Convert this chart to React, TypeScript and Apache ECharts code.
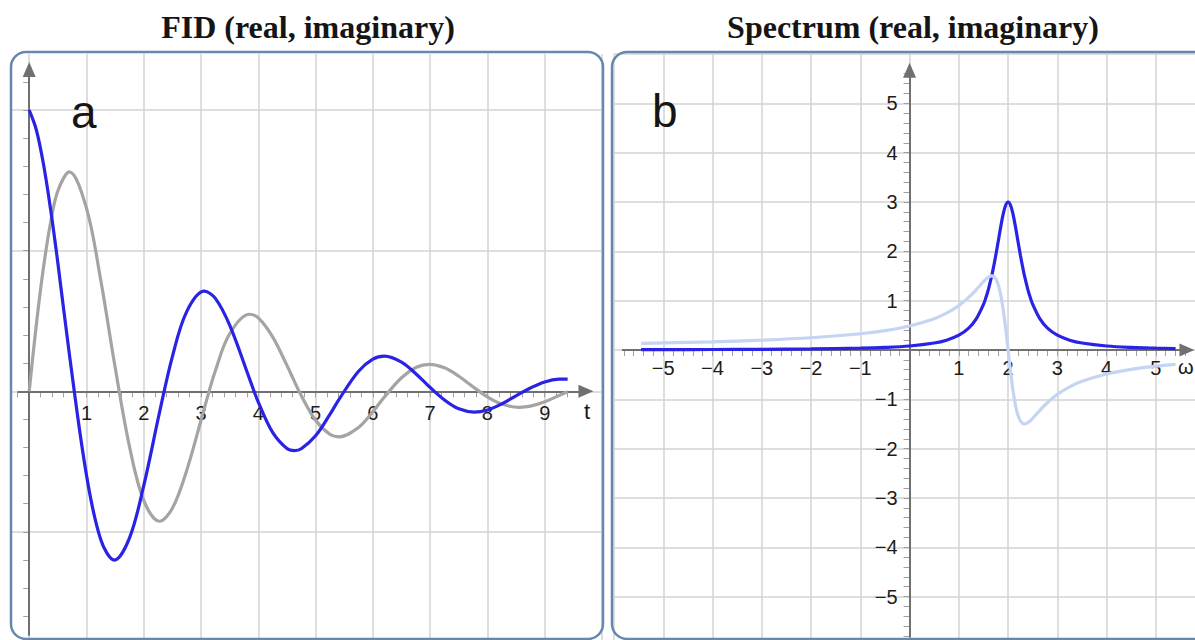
import React, { useEffect, useRef } from "react";
import * as echarts from "echarts";

// Free induction decay: time samples and the real / imaginary signal
const fidTime = [
  0, 0.125, 0.25, 0.375, 0.5, 0.703, 1.0, 1.25, 1.488, 1.75, 2.0, 2.274, 2.5, 2.75, 3.059, 3.25, 3.5,
  3.844, 4.0, 4.25, 4.5, 4.63, 4.75, 5.0, 5.25, 5.415, 5.75, 6.0, 6.201, 6.5, 6.75, 6.986, 7.25, 7.5,
  7.771, 8.0, 8.25, 8.557, 8.75, 9.0, 9.25, 9.4,
];
const fidReal = [
  2.0, 1.859, 1.615, 1.291, 0.915, 0.259, -0.596, -1.056, -1.201, -1.045, -0.671, -0.153, 0.247, 0.567,
  0.712, 0.661, 0.47, 0.092, -0.077, -0.292, -0.407, -0.422, -0.409, -0.317, -0.165, -0.054, 0.142, 0.228,
  0.25, 0.208, 0.125, 0.032, -0.062, -0.125, -0.148, -0.133, -0.09, -0.019, 0.023, 0.066, 0.086, 0.087,
];
const fidImag = [
  0, 0.475, 0.882, 1.203, 1.425, 1.561, 1.303, 0.789, 0.201, -0.391, -0.777, -0.925, -0.833, -0.564,
  -0.119, 0.146, 0.409, 0.548, 0.522, 0.387, 0.184, 0.07, -0.031, -0.206, -0.306, -0.324, -0.258, -0.145,
  -0.041, 0.096, 0.169, 0.192, 0.167, 0.107, 0.025, -0.04, -0.091, -0.114, -0.106, -0.075, -0.03, -0.004,
];

// Spectrum: frequency samples with absorption (real) and dispersion (imaginary)
const specFreq = [
  -5.45, -5, -4, -3, -2, -1, -0.5, 0, 0.5, 0.75, 1, 1.2, 1.35, 1.5, 1.55, 1.6, 1.667, 1.7, 1.75, 1.8,
  1.85, 1.9, 1.95, 2, 2.05, 2.1, 2.15, 2.2, 2.25, 2.3, 2.333, 2.4, 2.45, 2.5, 2.65, 2.8, 3, 3.25, 3.5, 4,
  4.5, 5, 5.4,
];
const specReal = [
  0.006, 0.007, 0.009, 0.013, 0.021, 0.037, 0.052, 0.081, 0.141, 0.199, 0.3, 0.444, 0.625, 0.923, 1.063,
  1.23, 1.5, 1.658, 1.92, 2.206, 2.495, 2.752, 2.934, 3.0, 2.934, 2.752, 2.495, 2.206, 1.92, 1.658,
  1.5, 1.23, 1.063, 0.923, 0.625, 0.444, 0.3, 0.199, 0.141, 0.081, 0.052, 0.037, 0.029,
];
const specImag = [
  0.134, 0.143, 0.166, 0.199, 0.248, 0.329, 0.393, 0.487, 0.635, 0.747, 0.9, 1.065, 1.218, 1.385, 1.435,
  1.475, 1.5, 1.492, 1.44, 1.324, 1.123, 0.826, 0.44, 0, -0.44, -0.826, -1.123, -1.324, -1.44, -1.492,
  -1.5, -1.475, -1.435, -1.385, -1.218, -1.065, -0.9, -0.747, -0.635, -0.487, -0.393, -0.329, -0.291,
];

// Tick labels and grid lines
const fidTimeLabels = [1, 2, 3, 4, 5, 6, 7, 8, 9];
const specLabels = [-5, -4, -3, -2, -1, 1, 2, 3, 4, 5];
const fidGridX = [0, 1, 2, 3, 4, 5, 6, 7, 8, 9, 10];
const fidGridY = [-1, 0, 1, 2];
const specGridX = [-6, -5, -4, -3, -2, -1, 0, 1, 2, 3, 4, 5, 6];
const specGridY = [-5, -4, -3, -2, -1, 0, 1, 2, 3, 4, 5, 6];

const BLUE = "#2a22e4";
const GREY = "#a4a4a4";
const LIGHT = "#c5d4f3";
const AXIS = "#707070";
const GRID = "#d3d3d3";
const TICK = "#a0a0a0";
const BORDER = "#6688b0";
const SANS = "Liberation Sans, Arial, sans-serif";
const SERIF = "Liberation Serif, Times New Roman, serif";
const LABEL_SIZE = 20;

type Box = { left: number; top: number; width: number; height: number };

// small tick marks every 0.2 units between two bounds
function minorTicks(from: number, to: number): number[] {
  const out: number[] = [];
  for (let k = Math.round(from * 5); k <= Math.round(to * 5); k++) out.push(k / 5);
  return out;
}

const signed = (v: number) => (v < 0 ? "\u2212" + Math.abs(v) : String(v));

function backAxis(gridIndex: number, min: number, max: number, lines: number[]) {
  return {
    type: "value",
    gridIndex,
    min,
    max,
    axisLine: { show: false, onZero: false },
    axisTick: { show: false, customValues: lines },
    axisLabel: { show: false },
    splitLine: { show: true, lineStyle: { color: GRID, width: 1.5 } },
  };
}

// axis carrying the small ticks and numbers, shifted so that it sits on the other axis' zero
function mainAxis(
  gridIndex: number,
  position: "bottom" | "left",
  offset: number,
  min: number,
  max: number,
  ticks: number[],
  labels: number[],
  margin: number
) {
  return {
    type: "value",
    gridIndex,
    position,
    offset,
    min,
    max,
    axisLine: { show: false, onZero: false },
    axisTick: { show: true, customValues: ticks, length: 6, lineStyle: { color: TICK, width: 1 } },
    axisLabel: {
      show: labels.length > 0,
      customValues: labels,
      margin,
      fontSize: LABEL_SIZE,
      color: "#1c1c1c",
      fontFamily: SANS,
      formatter: (v: number) => signed(v),
    },
    splitLine: { show: false },
  };
}

function axisArrows(xAxisIndex: number, yAxisIndex: number, x0: number, x1: number, y0: number, y1: number) {
  return {
    type: "line",
    xAxisIndex,
    yAxisIndex,
    data: [[0, 0]],
    showSymbol: false,
    silent: true,
    z: 1,
    lineStyle: { opacity: 0 },
    markLine: {
      silent: true,
      z: 1,
      symbol: ["none", "triangle"],
      symbolSize: [13, 15],
      label: { show: false },
      emphasis: { disabled: true },
      lineStyle: { color: AXIS, width: 2, type: "solid" },
      itemStyle: { color: AXIS },
      data: [
        [{ coord: [x0, 0] }, { coord: [x1, 0] }],
        [{ coord: [0, y0] }, { coord: [0, y1] }],
      ],
    },
  };
}

function text(x: number, y: number, str: string, size: number, family: string, align = "left", weight = "normal") {
  return {
    type: "text",
    x,
    y,
    z: 110,
    silent: true,
    style: {
      text: str,
      fontSize: size,
      fontFamily: family,
      fontWeight: weight,
      fill: "#151515",
      align,
      textAlign: align,
      verticalAlign: "middle",
      textVerticalAlign: "middle",
    },
  };
}

// pixel offsets that move a bottom x axis / left y axis onto the zero line
function zeroOffsets(box: Box, xr: [number, number], yr: [number, number]) {
  const zeroY = box.top + (box.height * yr[1]) / (yr[1] - yr[0]);
  const zeroX = box.left + (box.width * -xr[0]) / (xr[1] - xr[0]);
  return { x: zeroY - (box.top + box.height), y: -(zeroX - box.left) };
}

export default function App() {
  const ref = useRef<HTMLDivElement>(null);

  useEffect(() => {
    if (!ref.current) return;
    document.body.style.margin = "0";
    const chart = echarts.init(ref.current, undefined, { renderer: "svg" });

    const fidRealData = fidTime.map((t, i) => [t, fidReal[i]]);
    const fidImagData = fidTime.map((t, i) => [t, fidImag[i]]);
    const specRealData = specFreq.map((w, i) => [w, specReal[i]]);
    const specImagData = specFreq.map((w, i) => [w, specImag[i]]);

    const fidX: [number, number] = [-0.3, 10];
    const fidY: [number, number] = [-1.77, 2.4];
    const specX: [number, number] = [-6, 6.2];
    const specY: [number, number] = [-5.9, 6];

    const fidBox: Box = { left: 12, top: 54, width: 590, height: 586 };
    const specBox: Box = { left: 614, top: 54, width: 601, height: 587 };
    const fidOff = zeroOffsets(fidBox, fidX, fidY);
    const specOff = zeroOffsets(specBox, specX, specY);
    const gridOf = (b: Box) => ({ ...b, containLabel: false, outerBoundsMode: "none" });

    chart.setOption({
      animation: false,
      backgroundColor: "#ffffff",
      textStyle: { fontFamily: SANS },
      grid: [gridOf(fidBox), gridOf(fidBox), gridOf(specBox), gridOf(specBox)],
      xAxis: [
        backAxis(0, fidX[0], fidX[1], fidGridX),
        mainAxis(1, "bottom", fidOff.x, fidX[0], fidX[1], minorTicks(-0.2, 9.6), fidTimeLabels, 12),
        backAxis(2, specX[0], specX[1], specGridX),
        mainAxis(3, "bottom", specOff.x, specX[0], specX[1], minorTicks(-5.8, 5.6), specLabels, 8),
      ],
      yAxis: [
        backAxis(0, fidY[0], fidY[1], fidGridY),
        mainAxis(1, "left", fidOff.y, fidY[0], fidY[1], minorTicks(-1.6, 2.2), [], 10),
        backAxis(2, specY[0], specY[1], specGridY),
        mainAxis(3, "left", specOff.y, specY[0], specY[1], minorTicks(-5.8, 5.6), specLabels, 12),
      ],
      series: [
        axisArrows(1, 1, -0.2, 9.72, -1.74, 2.29),
        {
          name: "FID imaginary",
          type: "line",
          xAxisIndex: 1,
          yAxisIndex: 1,
          data: fidImagData,
          smooth: 0.35,
          showSymbol: false,
          z: 10,
          lineStyle: { color: GREY, width: 3.2 },
        },
        {
          name: "FID real",
          type: "line",
          xAxisIndex: 1,
          yAxisIndex: 1,
          data: fidRealData,
          smooth: 0.35,
          showSymbol: false,
          z: 11,
          lineStyle: { color: BLUE, width: 3.2 },
        },
        axisArrows(3, 3, -5.84, 5.63, -5.83, 5.67),
        {
          name: "Spectrum real",
          type: "line",
          xAxisIndex: 3,
          yAxisIndex: 3,
          data: specRealData,
          smooth: 0.35,
          showSymbol: false,
          z: 10,
          lineStyle: { color: BLUE, width: 3.2 },
        },
        {
          name: "Spectrum imaginary",
          type: "line",
          xAxisIndex: 3,
          yAxisIndex: 3,
          data: specImagData,
          smooth: 0.35,
          showSymbol: false,
          z: 11,
          lineStyle: { color: LIGHT, width: 3.2 },
        },
      ],
      graphic: [
        {
          type: "rect",
          z: 100,
          silent: true,
          shape: { x: 11, y: 52, width: 592, height: 587, r: 15 },
          style: { fill: "rgba(0,0,0,0)", stroke: BORDER, lineWidth: 2.5 },
        },
        {
          type: "rect",
          z: 100,
          silent: true,
          shape: { x: 612, y: 52, width: 640, height: 587, r: 15 },
          style: { fill: "rgba(0,0,0,0)", stroke: BORDER, lineWidth: 2.5 },
        },
        text(308, 27, "FID (real, imaginary)", 32, SERIF, "center", "bold"),
        text(913, 27, "Spectrum (real, imaginary)", 32, SERIF, "center", "bold"),
        text(71, 112, "a", 46, SANS),
        text(652, 111, "b", 46, SANS),
        text(587, 411, "t", 22, SANS, "center"),
        text(1178, 367, "ω", 20, SANS),
      ],
    });

    return () => chart.dispose();
  }, []);

  return (
    <div
      ref={ref}
      style={{ position: "fixed", left: 0, top: 0, width: 1195, height: 640, background: "#fff" }}
    />
  );
}
